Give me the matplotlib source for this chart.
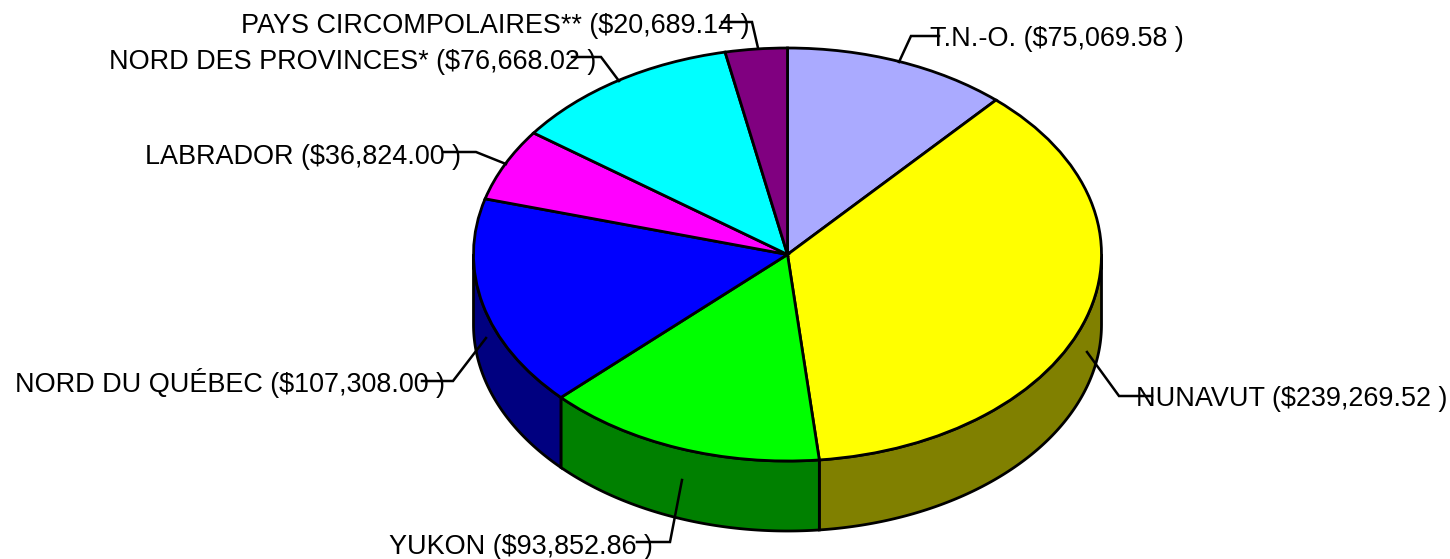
import numpy as np
import matplotlib
matplotlib.use("Agg")
import matplotlib.pyplot as plt

plt.rcParams['font.family'] = ['Liberation Sans', 'DejaVu Sans']

# Slices, clockwise from the top
names = ["T.N.-O.", "NUNAVUT", "YUKON", "NORD DU QUÉBEC", "LABRADOR",
         "NORD DES PROVINCES*", "PAYS CIRCOMPOLAIRES**"]
values = [75069.58, 239269.52, 93852.86, 107308.00, 36824.00, 76668.02, 20689.14]
top_colors = ["#AAAAFF", "#FFFF00", "#00FF00", "#0000FF", "#FF00FF", "#00FFFF", "#800080"]
side_colors = ["#555580", "#808000", "#008000", "#000080", "#800080", "#008080", "#400040"]

# label left edge / baseline, in pixels
label_x = [930, 1136, 389, 15, 145, 109, 241]
label_y = [46, 406, 554, 392, 164, 69, 33]
# leader lines, in pixels: text end, elbow, pie end
leaders = [
    [(939, 36), (911, 36), (899, 62)],
    [(1152, 396), (1119, 396), (1087, 352)],
    [(637, 542), (670, 542), (682, 480)],
    [(422, 381), (453, 381), (486, 338)],
    [(444, 152), (476, 152), (506, 164)],
    [(572, 57), (601, 57), (619, 81)],
    [(722, 22), (752, 22), (758, 48)],
]

W, H = 1450, 559
cx, cy, rx, ry = 787.5, 254.5, 314, 206.5
depth = 70 / ry
EDGE = 2.0


def to_data(px, py):
    return (px - cx) / rx, (cy - py) / ry


fig = plt.figure(figsize=(W / 100, H / 100), dpi=100)
ax = fig.add_axes([0, 0, 1, 1])

wedges, _ = ax.pie(values, startangle=90, counterclock=False, colors=top_colors,
                   radius=1, wedgeprops=dict(edgecolor="black", linewidth=EDGE, zorder=3))
ax.set_aspect("auto")
ax.set_xlim(to_data(0, 0)[0], to_data(W, 0)[0])
ax.set_ylim(to_data(0, H)[1], to_data(0, 0)[1])

# side wall: the part of each wedge on the front half of the ellipse
for w, col in zip(wedges, side_colors):
    for lo, hi in [(-180, 0), (180, 360)]:
        t1, t2 = max(w.theta1, lo), min(w.theta2, hi)
        if t2 <= t1:
            continue
        t = np.radians(np.linspace(t1, t2, 120))
        xs = np.cos(t)
        ys = np.sin(t)
        ax.fill(np.r_[xs, xs[::-1]], np.r_[ys, ys[::-1] - depth], facecolor=col,
                edgecolor="black", linewidth=EDGE, zorder=2)

for name, val, x, y in zip(names, values, label_x, label_y):
    px, py = to_data(x, y)
    ax.text(px, py, f"{name} (${val:,.2f} )", fontsize=19.45, color="black",
            ha="left", va="baseline", zorder=5)

for pts in leaders:
    p = np.array([to_data(*q) for q in pts])
    ax.plot(p[:, 0], p[:, 1], color="black", lw=1.8, zorder=6, solid_joinstyle="miter")

fig.savefig("out.png", dpi=100)
